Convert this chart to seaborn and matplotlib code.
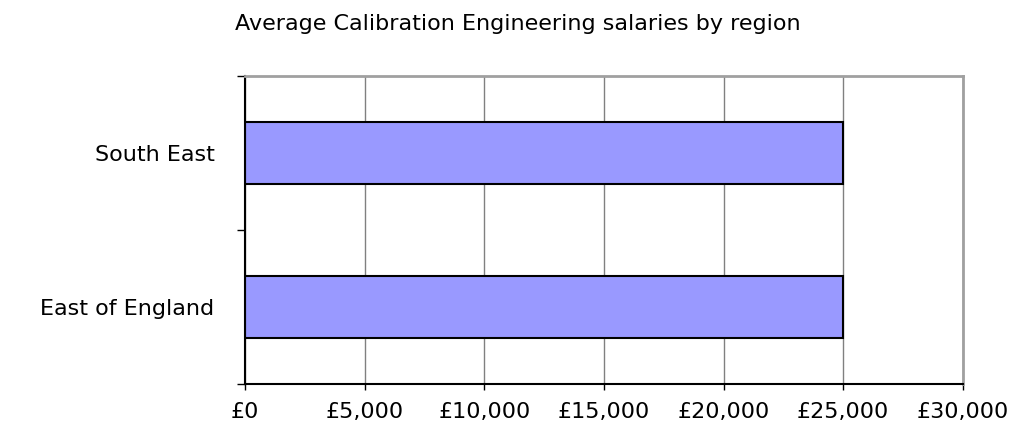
import matplotlib
matplotlib.use("Agg")
import matplotlib.pyplot as plt
from matplotlib.ticker import FuncFormatter, FixedLocator
import seaborn as sns
import pandas as pd

regions = ["South East", "East of England"]
salaries = [25000, 25000]
x_ticks = [0, 5000, 10000, 15000, 20000, 25000, 30000]

df = pd.DataFrame({"region": regions, "salary": salaries})

sns.set_style("white")
plt.rcParams["font.family"] = ["DejaVu Sans"]
plt.rcParams["text.color"] = "black"
plt.rcParams["xtick.labelcolor"] = "black"
plt.rcParams["ytick.labelcolor"] = "black"

fig = plt.figure(figsize=(10.21, 4.37), dpi=100)
ax = fig.add_axes([0.240, 0.121, 0.703, 0.705])

sns.barplot(data=df, x="salary", y="region", orient="h", color="#9999ff",
            saturation=1, edgecolor="black", linewidth=1.5, width=0.4, ax=ax)

ax.set_xlim(0, 30000)
ax.set_ylim(1.5, -0.5)
ax.xaxis.set_major_locator(FixedLocator(x_ticks))
ax.xaxis.set_major_formatter(FuncFormatter(lambda v, p: f"£{v:,.0f}"))

# boundaries between categories get the small outward ticks
ax.yaxis.set_minor_locator(FixedLocator([-0.5, 0.5, 1.5]))
ax.tick_params(axis="y", which="major", length=0, pad=22, labelsize=16,
               labelcolor="black")
ax.tick_params(axis="y", which="minor", left=True, length=6, width=1, color="black")
ax.tick_params(axis="x", which="major", bottom=True, length=4, width=1,
               color="black", pad=9, labelsize=16, labelcolor="black")

ax.grid(axis="x", color="#808080", linewidth=1)
ax.set_axisbelow(True)

ax.spines["left"].set_color("black")
ax.spines["bottom"].set_color("black")
ax.spines["left"].set_linewidth(1.5)
ax.spines["bottom"].set_linewidth(1.5)
ax.spines["top"].set_color("#a0a0a0")
ax.spines["right"].set_color("#a0a0a0")
ax.spines["top"].set_linewidth(2)
ax.spines["right"].set_linewidth(2)

ax.set_xlabel("")
ax.set_ylabel("")
fig.text(0.507, 0.945, "Average Calibration Engineering salaries by region",
         ha="center", va="center", fontsize=16, color="black")

fig.savefig("out.png", dpi=100)
